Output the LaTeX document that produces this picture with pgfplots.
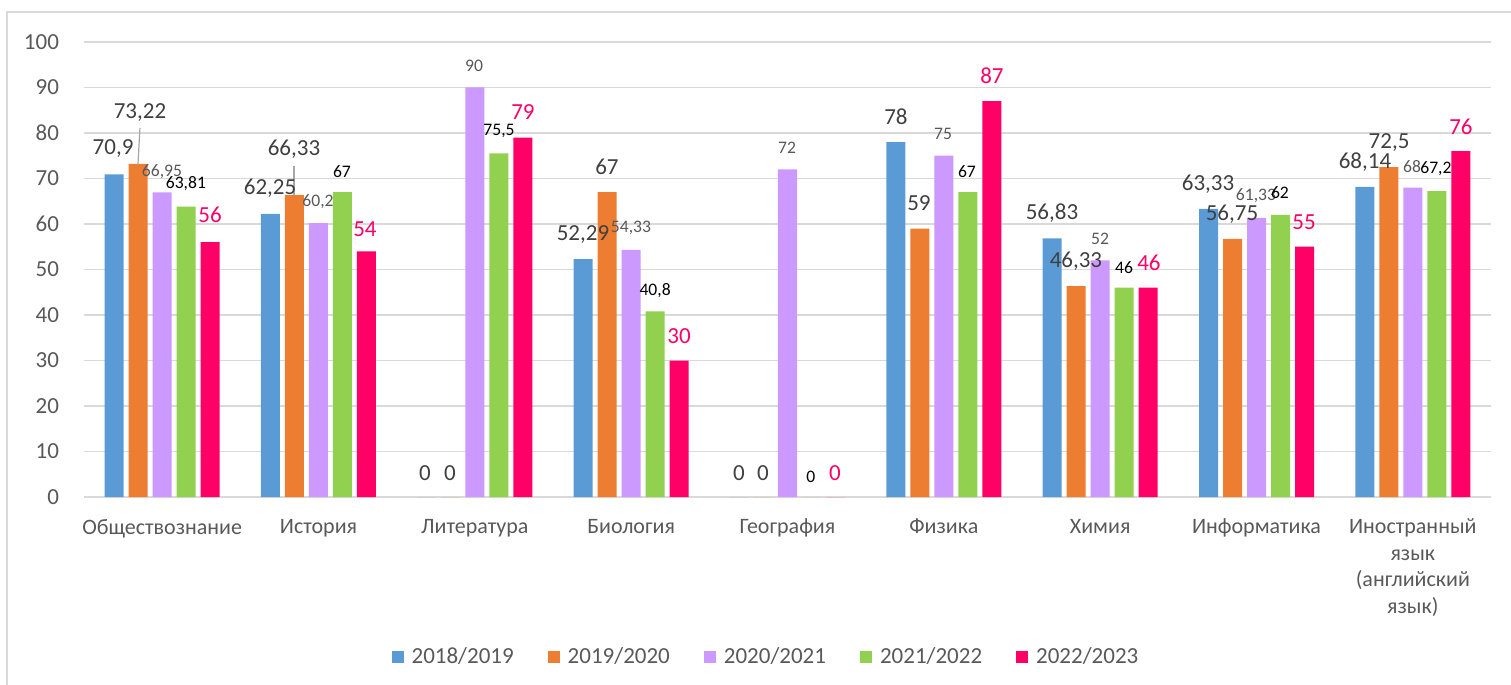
\documentclass[border=0pt]{standalone}
\usepackage{fontspec}
\setmainfont{Carlito}
\usepackage{pgfplots}
\pgfplotsset{compat=1.18}

\definecolor{sA}{HTML}{5B9BD5}
\definecolor{sB}{HTML}{ED7D31}
\definecolor{sC}{HTML}{CC99FF}
\definecolor{sD}{HTML}{92D050}
\definecolor{sE}{HTML}{FF0066}
\definecolor{gridc}{HTML}{D9D9D9}
\definecolor{txt}{HTML}{595959}
\definecolor{dark}{HTML}{404040}

\tikzset{
  big/.style={font=\fontsize{11.5}{13}\selectfont, text=dark, inner sep=0pt},
  sml/.style={font=\fontsize{8.8}{10}\selectfont, text=txt, inner sep=0pt},
  blk/.style={font=\fontsize{8.8}{10}\selectfont, text=black, inner sep=0pt},
  pnk/.style={font=\fontsize{11.5}{13}\selectfont, text=sE, inner sep=0pt},
}
\pgfplotsset{sq/.style={legend image code/.code={\fill[##1] (0pt,-3pt) rectangle (6pt,3pt);}}}

\begin{document}
\begin{tikzpicture}
\useasboundingbox (-42pt,-94pt) rectangle (713.5pt,248.5pt);
\draw[gridc, line width=1pt] (-38.5pt,-94pt) -- (-38.5pt,242.5pt) -- (713.5pt,242.5pt);
\begin{axis}[
  at={(0,0)}, anchor=south west,
  scale only axis, width=703.5pt, height=227.5pt,
  ybar=2.5pt, bar width=9.5pt,
  xmin=-0.5, xmax=8.5, ymin=0, ymax=100,
  xtick={0,...,8},
  xticklabels={Обществознание, История, Литература, Биология, География, Физика, Химия, Информатика, {Иностранный\\язык\\(английский\\язык)}},
  ytick={0,10,...,100},
  axis x line*=bottom, axis y line*=left,
  x axis line style={gridc, line width=0.75pt},
  y axis line style={draw=none},
  major tick length=0pt,
  ymajorgrids, grid style={gridc, line width=0.75pt},
  tick label style={font=\fontsize{11.5}{13}\selectfont, text=txt},
  /pgf/number format/assume math mode=true,
  yticklabel style={xshift=-9pt},
  xticklabel style={align=center, yshift=-7.5pt, font=\fontsize{11}{13.2}\selectfont},
  clip=false,
  legend columns=5,
  legend style={at={(0.4854,-0.352)}, anchor=center, draw=none, fill=none,
    font=\fontsize{11.5}{13}\selectfont, text=txt,
    /tikz/every odd column/.append style={column sep=2pt},
    /tikz/every even column/.append style={column sep=15pt}},
]
\addplot[sq, fill=sA, draw=none] coordinates {(0,70.9) (1,62.25) (2,0) (3,52.29) (4,0) (5,78) (6,56.83) (7,63.33) (8,68.14)};
\addlegendentry{2018/2019}
\addplot[sq, fill=sB, draw=none] coordinates {(0,73.22) (1,66.33) (2,0) (3,67) (4,0) (5,59) (6,46.33) (7,56.75) (8,72.5)};
\addlegendentry{2019/2020}
\addplot[sq, fill=sC, draw=none] coordinates {(0,66.95) (1,60.2) (2,90) (3,54.33) (4,72) (5,75) (6,52) (7,61.33) (8,68)};
\addlegendentry{2020/2021}
\addplot[sq, fill=sD, draw=none] coordinates {(0,63.81) (1,67) (2,75.5) (3,40.8) (4,0) (5,67) (6,46) (7,62) (8,67.2)};
\addlegendentry{2021/2022}
\addplot[sq, fill=sE, draw=none] coordinates {(0,56) (1,54) (2,79) (3,30) (4,0) (5,87) (6,46) (7,55) (8,76)};
\addlegendentry{2022/2023}

% leader lines
\draw[gray!70, line width=0.6pt] (axis cs:-0.142,81.1) -- (axis cs:-0.155,73.0);
\draw[gray!70, line width=0.6pt] (axis cs:0.843,72.7) -- (axis cs:0.843,66.4);

% data labels
\node[big] at (axis cs:-0.314,76.5) {70,9};
\node[big] at (axis cs:-0.142,84.6) {73,22};
\node[sml] at (axis cs:-0.001,71.6) {66,95};
\node[blk] at (axis cs:0.152,68.8) {63,81};
\node[pnk] at (axis cs:0.306,62.0) {56};

\node[big] at (axis cs:0.690,67.9) {62,25};
\node[big] at (axis cs:0.843,76.5) {66,33};
\node[sml] at (axis cs:0.997,64.8) {60,2};
\node[blk] at (axis cs:1.150,71.6) {67};
\node[pnk] at (axis cs:1.297,58.9) {54};

\node[big] at (axis cs:1.681,5.3) {0};
\node[big] at (axis cs:1.841,5.3) {0};
\node[sml] at (axis cs:1.995,94.7) {90};
\node[blk] at (axis cs:2.155,80.4) {75,5};
\node[pnk] at (axis cs:2.308,84.6) {79};

\node[big] at (axis cs:2.692,57.8) {52,29};
\node[big] at (axis cs:2.845,72.5) {67};
\node[sml] at (axis cs:2.999,59.1) {54,33};
\node[blk] at (axis cs:3.153,45.3) {40,8};
\node[pnk] at (axis cs:3.306,35.4) {30};

\node[big] at (axis cs:3.690,5.3) {0};
\node[big] at (axis cs:3.843,5.3) {0};
\node[sml] at (axis cs:3.997,76.7) {72};
\node[blk] at (axis cs:4.150,4.4) {0};
\node[pnk] at (axis cs:4.304,5.3) {0};

\node[big] at (axis cs:4.694,83.5) {78};
\node[big] at (axis cs:4.841,64.6) {59};
\node[sml] at (axis cs:4.995,79.8) {75};
\node[blk] at (axis cs:5.148,71.6) {67};
\node[pnk] at (axis cs:5.308,92.5) {87};

\node[big] at (axis cs:5.692,62.4) {56,83};
\node[big] at (axis cs:5.845,51.9) {46,33};
\node[sml] at (axis cs:5.999,56.7) {52};
\node[blk] at (axis cs:6.153,50.5) {46};
\node[pnk] at (axis cs:6.312,51.4) {46};

\node[big] at (axis cs:6.690,68.8) {63,33};
\node[big] at (axis cs:6.843,62.2) {56,75};
\node[sml] at (axis cs:6.997,66.2) {61,33};
\node[blk] at (axis cs:7.150,66.8) {62};
\node[pnk] at (axis cs:7.304,60.4) {55};

\node[big] at (axis cs:7.694,73.6) {68,14};
\node[big] at (axis cs:7.848,78.0) {72,5};
\node[sml] at (axis cs:7.995,72.7) {68};
\node[blk] at (axis cs:8.148,72.1) {67,2};
\node[pnk] at (axis cs:8.308,81.3) {76};
\end{axis}
\end{tikzpicture}
\end{document}
